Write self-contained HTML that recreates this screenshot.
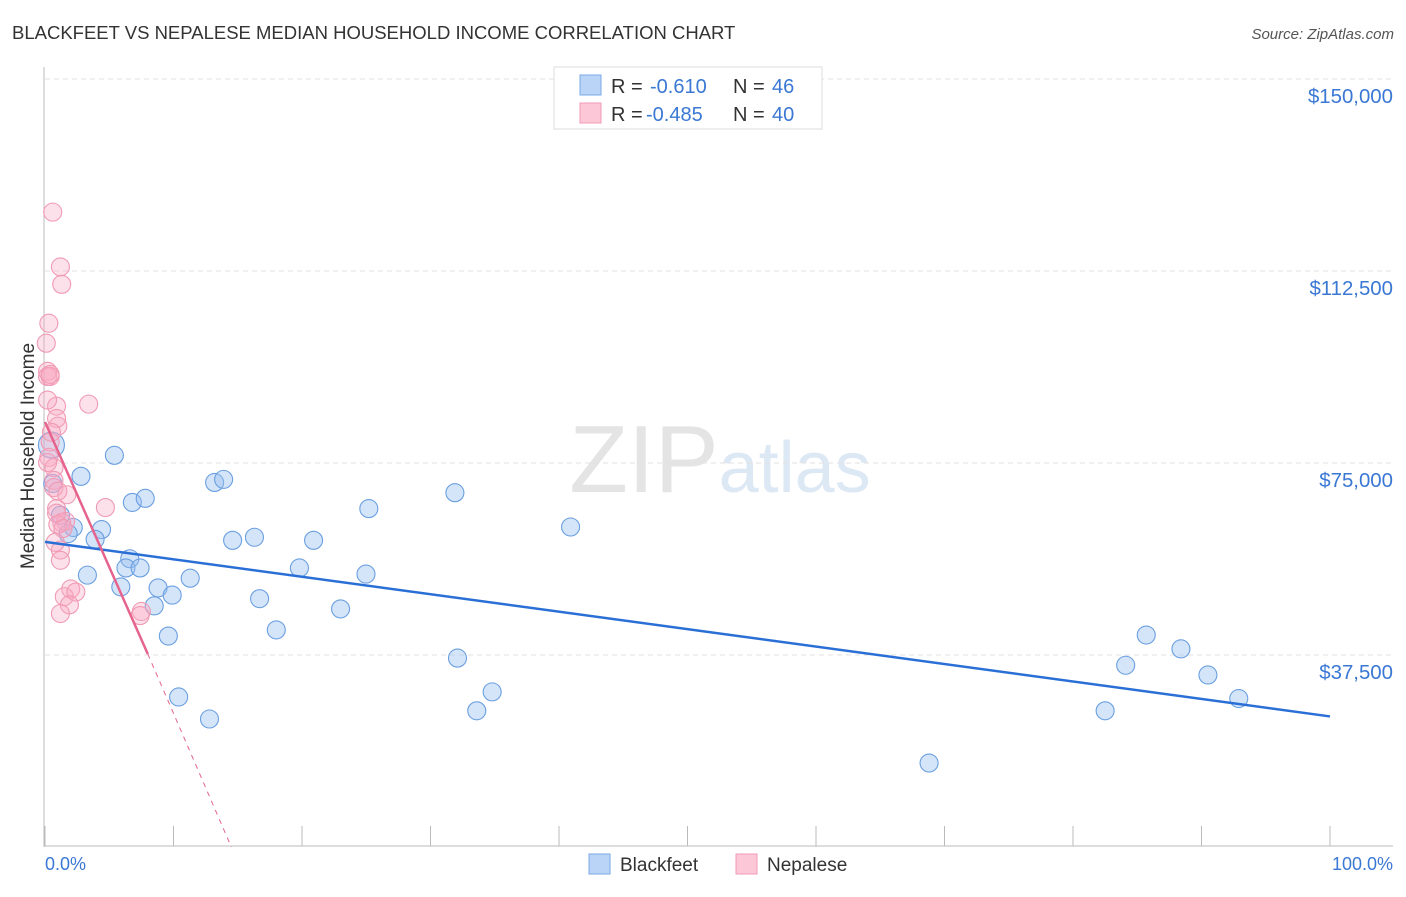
<!DOCTYPE html>
<html><head><meta charset="utf-8"><style>
body{margin:0;background:#fff;font-family:"Liberation Sans",sans-serif;}
svg text{font-family:"Liberation Sans",sans-serif;}
</style></head><body>
<svg id="c" width="1406" height="892" xmlns="http://www.w3.org/2000/svg">
<text x="12" y="39" font-size="18.5" fill="#333">BLACKFEET VS NEPALESE MEDIAN HOUSEHOLD INCOME CORRELATION CHART</text>
<text x="1394" y="39" font-size="15" fill="#555" font-style="italic" text-anchor="end">Source: ZipAtlas.com</text>
<text x="720" y="492" font-size="96" fill="#e6e6e6" text-anchor="middle" font-family="Liberation Serif"><tspan fill="#e4e4e4">ZIP</tspan><tspan fill="#dde8f5" font-family="Liberation Sans" font-size="72">atlas</tspan></text>
<g id="grid"></g>
<g id="marks"></g>
<g>
<rect x="554" y="67" width="268" height="62" fill="#fff" stroke="#ddd"/>
<rect x="580" y="75" width="21" height="20" fill="#b9d4f6" stroke="#7aaae6"/>
<rect x="580" y="103" width="21" height="20" fill="#fcc8d7" stroke="#f09ab4"/>
<text x="611" y="93" font-size="20" fill="#333">R = </text><text x="650" y="93" font-size="20" fill="#3a78d4">-0.610</text>
<text x="733" y="93" font-size="20" fill="#333">N = </text><text x="772" y="93" font-size="20" fill="#3a78d4">46</text>
<text x="611" y="121" font-size="20" fill="#333">R = </text><text x="646" y="121" font-size="20" fill="#3a78d4">-0.485</text>
<text x="733" y="121" font-size="20" fill="#333">N = </text><text x="772" y="121" font-size="20" fill="#3a78d4">40</text>
</g>
<text x="34" y="456" font-size="19" fill="#333" text-anchor="middle" transform="rotate(-90 34 456)">Median Household Income</text>
<text x="45" y="870" font-size="18" fill="#3a78d4">0.0%</text>
<text x="1393" y="870" font-size="18" fill="#3a78d4" text-anchor="end">100.0%</text>
<g>
<rect x="589" y="854" width="21" height="20" fill="#b9d4f6" stroke="#7aaae6"/>
<text x="620" y="871" font-size="19" fill="#333">Blackfeet</text>
<rect x="736" y="854" width="21" height="20" fill="#fcc8d7" stroke="#f09ab4"/>
<text x="767" y="871" font-size="19" fill="#333">Nepalese</text>
</g>
</svg>
<script>
const yTicks=[37500,75000,112500,150000];
const yTickLabels=["$37,500","$75,000","$112,500","$150,000"];
const blackX=[0.5,5.4,2.8,0.6,6.8,7.8,13.2,13.9,1.2,2.2,4.4,1.8,3.9,14.6,16.3,20.9,6.6,6.3,7.4,3.3,19.8,24.98,11.3,5.9,8.8,9.9,16.7,8.5,23.0,9.6,18.0,10.4,12.8,25.2,31.9,40.9,32.1,34.8,33.6,85.7,84.1,88.4,90.5,92.9,82.5,68.8];
const blackY=[78500,76500,72400,71000,67300,68100,71200,71800,64800,62400,62000,61200,60100,59900,60500,59900,56300,54500,54500,53100,54500,53300,52500,50800,50600,49200,48500,47100,46500,41200,42400,29300,25000,66100,69200,62500,36900,30300,26600,41400,35500,38700,33600,29000,26600,16400];
const nepX=[0.6,1.2,1.3,0.3,0.1,0.2,0.2,0.4,3.4,0.9,0.9,1.0,0.4,0.3,0.7,0.7,0.7,1.7,0.9,1.3,4.7,1.6,1.0,1.2,1.2,2.0,1.5,2.4,1.9,1.2,7.5,7.4,0.2,0.5,0.2,0.9,1.4,0.8,1.0,0.4];
const nepY=[124000,113300,109900,102300,98400,92900,91900,91900,86500,86100,83700,82200,79100,76100,74100,71600,70200,68800,66100,63400,66300,63600,63000,58000,56000,50400,48900,49800,47300,45600,46000,45200,87300,81000,75100,65200,62200,59500,69500,92300];
const blackLine=[[0,59600],[100,25500]];
const nepLine=[[0,83000],[8,37700]];
const nepDash=[[8,37700],[14.5,0]];
const X0=45,X1=1330,Y0=847,Y150=79;
const sx=v=>X0+(X1-X0)*v/100, sy=v=>Y0-(Y0-Y150)*v/150000;
const NS="http://www.w3.org/2000/svg";
const grid=document.getElementById('grid'),marks=document.getElementById('marks');
function mk(p,tag,a){const e=document.createElementNS(NS,tag);for(const k in a)e.setAttribute(k,a[k]);p.appendChild(e);return e;}
yTicks.forEach((t,i)=>{
 const l=mk(grid,'line',{x1:45,x2:1393,y1:sy(t),y2:sy(t),stroke:'#e2e2e2','stroke-dasharray':'5,4'});
 
 
 const tx=mk(grid,'text',{x:1393,y:sy(t)+24,'font-size':20.4,fill:'#3a78d4','text-anchor':'end'});
 tx.textContent=yTickLabels[i];
 
 
});
mk(grid,'line',{x1:44,x2:44,y1:67,y2:847,stroke:'#bbb'});
const ax=mk(grid,'line',{x1:44,x2:1393,y1:846,y2:846,stroke:'#bbb'});


for(let i=0;i<=10;i++){const t=mk(grid,'line',{x1:sx(i*10),x2:sx(i*10),y1:826,y2:846,stroke:'#bbb'});
 
 }
blackX.forEach((x,i)=>{const c=mk(marks,'circle',{cx:sx(x),cy:sy(blackY[i]),r:i==0?13:9,fill:'rgba(150,190,240,0.4)',stroke:'#6a9fe0','stroke-width':1.1});
 
 });
nepX.forEach((x,i)=>{const c=mk(marks,'circle',{cx:sx(x),cy:sy(nepY[i]),r:9,fill:'rgba(248,170,195,0.35)',stroke:'#f09ab4','stroke-width':1.1});
 
 });
const bl=mk(marks,'line',{x1:sx(blackLine[0][0]),y1:sy(blackLine[0][1]),x2:sx(blackLine[1][0]),y2:sy(blackLine[1][1]),stroke:'#2a6fd6','stroke-width':2.5});


const nl=mk(marks,'line',{x1:sx(nepLine[0][0]),y1:sy(nepLine[0][1]),x2:sx(nepLine[1][0]),y2:sy(nepLine[1][1]),stroke:'#e5638d','stroke-width':2.5});


const nd=mk(marks,'line',{x1:sx(nepDash[0][0]),y1:sy(nepDash[0][1]),x2:sx(nepDash[1][0]),y2:sy(nepDash[1][1]),stroke:'#e5638d','stroke-width':1,'stroke-dasharray':'5,5'});


</script>
</body></html>
